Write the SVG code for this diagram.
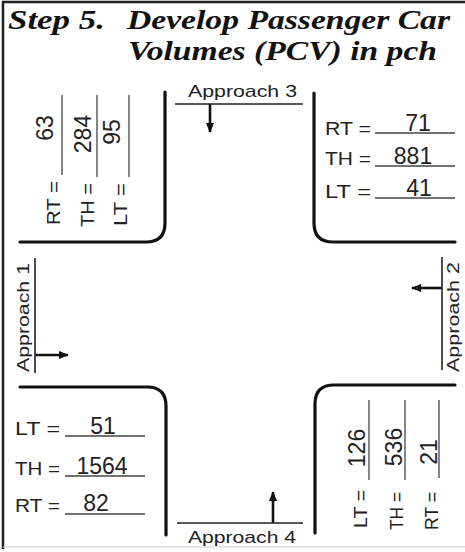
<svg xmlns="http://www.w3.org/2000/svg" width="465" height="552" viewBox="0 0 465 552">
<style>
.title{font-family:"Liberation Serif",serif;font-weight:bold;font-style:italic;font-size:27px;fill:#111}
.lbl{font-family:"Liberation Sans",Arial,sans-serif;font-size:17px;fill:#222}
.eq{font-family:"Liberation Sans",Arial,sans-serif;font-size:18px;fill:#222}
.hw{font-family:"Liberation Sans",Arial,sans-serif;font-size:23px;fill:#222;text-anchor:middle}
.curb{fill:none;stroke:#111;stroke-width:3.2;stroke-linecap:round}
.ul{stroke:#444;stroke-width:1.3}
.ap{stroke:#222;stroke-width:1.6}
.arr{stroke:#111;stroke-width:2.6}
</style>
<defs>
<marker id="ah" markerWidth="10" markerHeight="8" refX="9" refY="4" orient="auto" markerUnits="userSpaceOnUse">
<path d="M0,0 L10,4 L0,8 Z" fill="#111"/>
</marker>
</defs>
<g id="frame">
<line x1="3" y1="2" x2="3" y2="549" stroke="#222" stroke-width="2.5"/>
<line x1="2" y1="2" x2="465" y2="2" stroke="#222" stroke-width="2.5"/>
<line x1="3" y1="547" x2="465" y2="547" stroke="#ccc" stroke-width="1"/>
</g>
<g id="title">
<text class="title" x="8" y="29" textLength="97" lengthAdjust="spacingAndGlyphs">Step 5.</text>
<text class="title" x="127" y="29" textLength="323" lengthAdjust="spacingAndGlyphs">Develop Passenger Car</text>
<text class="title" x="128" y="60" textLength="309" lengthAdjust="spacingAndGlyphs">Volumes (PCV) in pch</text>
</g>
<g id="curbs">
<path class="curb" d="M20,242 H146 Q165,242 165,223 V92"/>
<path class="curb" d="M314,93 V223 Q314,242 333,242 H455"/>
<path class="curb" d="M20,387 H147 Q166,387 166,406 V535"/>
<path class="curb" d="M315,533 V404 Q315,385 334,385 H455"/>
</g>
<g id="connectors">
<line class="arr" x1="210" y1="104" x2="210" y2="132" marker-end="url(#ah)"/>
<line class="arr" x1="273" y1="523" x2="273" y2="492" marker-end="url(#ah)"/>
<line class="arr" x1="35" y1="355" x2="68" y2="355" marker-end="url(#ah)"/>
<line class="arr" x1="442" y1="288" x2="412" y2="288" marker-end="url(#ah)"/>
</g>
<g id="approach3">
<text class="lbl" x="188" y="97" textLength="109" lengthAdjust="spacingAndGlyphs">Approach 3</text>
<line class="ap" x1="175" y1="104" x2="303" y2="104"/>
</g>
<g id="approach4">
<line class="ap" x1="177" y1="523" x2="303" y2="523"/>
<text class="lbl" x="188" y="543" textLength="108" lengthAdjust="spacingAndGlyphs">Approach 4</text>
</g>
<g id="approach1">
<text class="lbl" transform="translate(29,372) rotate(-90)" textLength="109" lengthAdjust="spacingAndGlyphs">Approach 1</text>
<line class="ap" x1="35" y1="258" x2="35" y2="373"/>
</g>
<g id="approach2">
<text class="lbl" transform="translate(459,372) rotate(-90)" textLength="110" lengthAdjust="spacingAndGlyphs">Approach 2</text>
<line class="ap" x1="442" y1="257" x2="442" y2="370"/>
</g>
<g id="volumes3">
<text class="eq" transform="translate(60,225) rotate(-90)" textLength="44" lengthAdjust="spacingAndGlyphs">RT =</text>
<line class="ul" x1="62" y1="95" x2="62" y2="175"/>
<text class="hw" transform="translate(53,128) rotate(-90)">63</text>
<text class="eq" transform="translate(94,227) rotate(-90)" textLength="44" lengthAdjust="spacingAndGlyphs">TH =</text>
<line class="ul" x1="97" y1="95" x2="97" y2="177"/>
<text class="hw" transform="translate(91,134) rotate(-90)">284</text>
<text class="eq" transform="translate(127,226) rotate(-90)" textLength="43" lengthAdjust="spacingAndGlyphs">LT =</text>
<line class="ul" x1="129" y1="95" x2="129" y2="177"/>
<text class="hw" transform="translate(120,132) rotate(-90)">95</text>
</g>
<g id="volumes2">
<text class="eq" x="325" y="135" textLength="46" lengthAdjust="spacingAndGlyphs">RT =</text>
<line class="ul" x1="375" y1="133" x2="455" y2="133"/>
<text class="hw" x="418" y="131">71</text>
<text class="eq" x="325" y="165" textLength="46" lengthAdjust="spacingAndGlyphs">TH =</text>
<line class="ul" x1="375" y1="166" x2="455" y2="166"/>
<text class="hw" x="413" y="164">881</text>
<text class="eq" x="325" y="198" textLength="46" lengthAdjust="spacingAndGlyphs">LT =</text>
<line class="ul" x1="375" y1="198" x2="455" y2="198"/>
<text class="hw" x="419" y="196">41</text>
</g>
<g id="volumes4">
<text class="eq" x="15" y="435" textLength="45" lengthAdjust="spacingAndGlyphs">LT =</text>
<line class="ul" x1="65" y1="436" x2="145" y2="436"/>
<text class="hw" x="103" y="434">51</text>
<text class="eq" x="15" y="475" textLength="45" lengthAdjust="spacingAndGlyphs">TH =</text>
<line class="ul" x1="65" y1="476" x2="145" y2="476"/>
<text class="hw" x="102" y="474">1564</text>
<text class="eq" x="15" y="512" textLength="45" lengthAdjust="spacingAndGlyphs">RT =</text>
<line class="ul" x1="65" y1="514" x2="145" y2="514"/>
<text class="hw" x="96" y="511">82</text>
</g>
<g id="volumes1">
<text class="eq" transform="translate(367,528) rotate(-90)" textLength="38" lengthAdjust="spacingAndGlyphs">LT =</text>
<line class="ul" x1="369" y1="400" x2="369" y2="480"/>
<text class="hw" transform="translate(365,448) rotate(-90)">126</text>
<text class="eq" transform="translate(403,530) rotate(-90)" textLength="38" lengthAdjust="spacingAndGlyphs">TH =</text>
<line class="ul" x1="405" y1="400" x2="405" y2="480"/>
<text class="hw" transform="translate(402,447) rotate(-90)">536</text>
<text class="eq" transform="translate(438,530) rotate(-90)" textLength="38" lengthAdjust="spacingAndGlyphs">RT =</text>
<line class="ul" x1="439" y1="400" x2="439" y2="478"/>
<text class="hw" transform="translate(437,452) rotate(-90)">21</text>
</g>
</svg>
